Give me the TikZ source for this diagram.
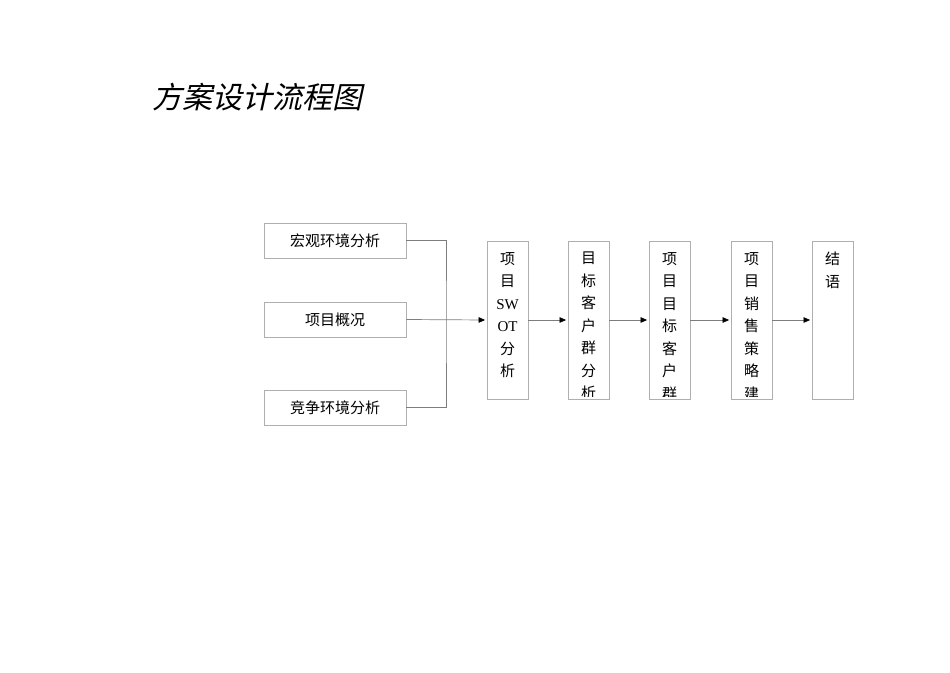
\documentclass[tikz,border=0pt]{standalone}
\usepackage{fontspec}
\setmainfont{Liberation Serif}
\newfontfamily\cjk{Noto Sans CJK SC}
\newfontfamily\cjktitle[FakeSlant=0.22]{Noto Sans CJK SC}
\usetikzlibrary{arrows.meta}
\definecolor{boxgray}{RGB}{175,175,175}
\definecolor{linegray}{RGB}{125,125,125}
\tikzset{
  hbox/.style={draw=boxgray,line width=0.8pt,minimum width=142pt,minimum height=35pt,inner sep=0pt,font=\cjk\fontsize{15}{18}\selectfont},
  vbox/.style={draw=boxgray,line width=0.8pt,minimum width=41pt,minimum height=158pt,inner sep=0pt},
  vtext/.style={anchor=north,inner sep=0pt,align=center,font=\cjk\fontsize{15}{22.5}\selectfont},
  conn/.style={draw=linegray,line width=0.7pt},
  arr/.style={conn,shorten >=1.5pt,-{Triangle[length=6.5pt,width=5.5pt,fill=black,color=black]}},
}
\begin{document}
\begin{tikzpicture}[x=1pt,y=-1pt]
\useasboundingbox (0,0) rectangle (950,672);
\node[anchor=west,inner sep=0pt,font=\cjktitle\fontsize{30}{32}\selectfont] (title) at (152,97) {方案设计流程图};

\node[hbox] (b1) at (335,240.5) {宏观环境分析};
\node[hbox] (b2) at (335,319.5) {项目概况};
\node[hbox] (b3) at (335,407.5) {竞争环境分析};

\node[vbox] (va) at (507.5,320) {};
\node[vbox] (vb) at (588.5,320) {};
\node[vbox] (vc) at (669.5,320) {};
\node[vbox] (vd) at (751.5,320) {};
\node[vbox] (ve) at (832.5,320) {};

\begin{scope}
\clip (va.north west) rectangle ([yshift=3pt]va.south east);
\node[vtext] (ta) at ([yshift=-11.5pt]va.north) {项\\目\\{\rmfamily SW}\\{\rmfamily OT}\\分\\析};
\end{scope}
\begin{scope}
\clip (vb.north west) rectangle ([yshift=3pt]vb.south east);
\node[vtext] (tb) at ([yshift=-11.5pt]vb.north) {目\\标\\客\\户\\群\\分\\析};
\end{scope}
\begin{scope}
\clip (vc.north west) rectangle ([yshift=3pt]vc.south east);
\node[vtext] (tc) at ([yshift=-11.5pt]vc.north) {项\\目\\目\\标\\客\\户\\群};
\end{scope}
\begin{scope}
\clip (vd.north west) rectangle ([yshift=3pt]vd.south east);
\node[vtext] (td) at ([yshift=-11.5pt]vd.north) {项\\目\\销\\售\\策\\略\\建};
\end{scope}
\node[vtext] (te) at ([yshift=-11.5pt]ve.north) {结\\语};

\coordinate (j) at (446,320);
\draw[conn] (b1.east) -| (j) |- (b3.east);
\draw[arr] (b2.east) -- (va.west);
\draw[arr] (va.east) -- (vb.west);
\draw[arr] (vb.east) -- (vc.west);
\draw[arr] (vc.east) -- (vd.west);
\draw[arr] (vd.east) -- (ve.west);
\end{tikzpicture}
\end{document}
